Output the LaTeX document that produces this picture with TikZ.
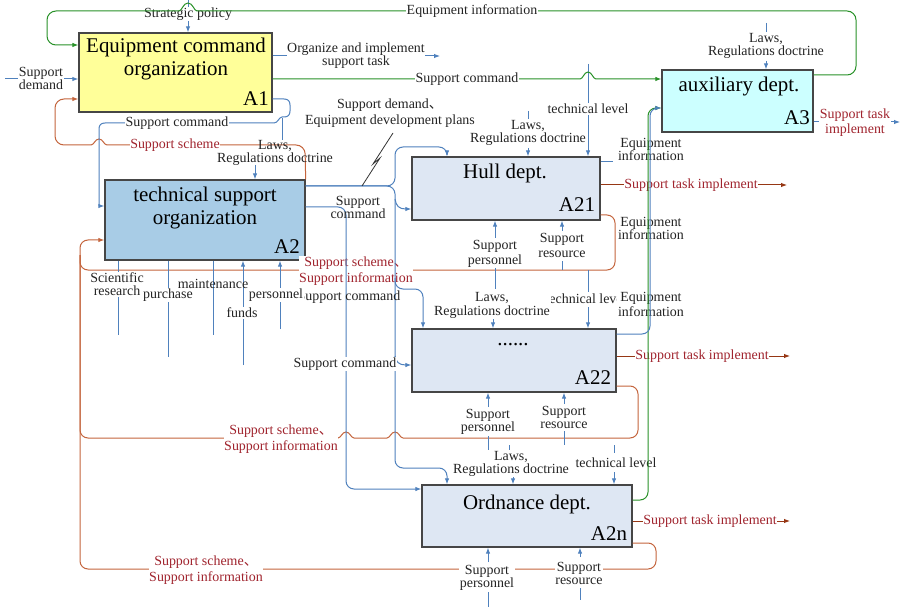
\documentclass[tikz,border=0pt]{standalone}
\usepackage{fontspec}
\setmainfont{Liberation Serif}
\newfontfamily\cjkfont{Noto Sans CJK SC}
\usetikzlibrary{arrows.meta}

\definecolor{lnblue}{RGB}{79,129,189}
\definecolor{lngreen}{RGB}{40,145,40}
\definecolor{lnbrown}{RGB}{196,100,60}
\definecolor{outbrown}{RGB}{150,55,20}
\definecolor{txtred}{RGB}{160,35,45}
\definecolor{txtdark}{RGB}{35,35,35}
\definecolor{edgegray}{RGB}{70,70,70}
\definecolor{fillAone}{RGB}{255,255,153}
\definecolor{fillAthree}{RGB}{204,255,255}
\definecolor{fillAtwo}{RGB}{168,204,230}
\definecolor{fillsub}{RGB}{222,231,243}

\tikzset{
  blk/.style={draw=edgegray, line width=1.3bp, inner sep=0pt},
  ttl/.style={font=\fontsize{21}{24}\selectfont, align=center, inner sep=0pt, text=black},
  tag/.style={font=\fontsize{21}{24}\selectfont, inner sep=0pt, text=black},
  bline/.style={draw=lnblue, line width=1bp},
  gline/.style={draw=lngreen, line width=1bp},
  rline/.style={draw=lnbrown, line width=1bp},
  oline/.style={draw=outbrown, line width=1bp},
  tip/.style={-{Latex[length=6bp,width=4.5bp]}},
  lbl/.style={font=\fontsize{14}{13}\selectfont, align=center, inner sep=0.6bp, fill=white, text=txtdark},
  bare/.style={lbl, fill=none},
  rlbl/.style={lbl, text=txtred, font=\fontsize{14}{16}\selectfont},
}

\begin{document}
\begin{tikzpicture}[x=1bp,y=-1bp]
\fill[white] (0,0) rectangle (901,607);
\useasboundingbox (0,0) rectangle (901,607);

% ---------- activity boxes ----------
\node[blk, fill=fillAone, minimum width=193bp, minimum height=79bp] (A1) at (175.5,72.5) {};
\node[blk, fill=fillAthree, minimum width=151bp, minimum height=62bp] (A3) at (737.5,101) {};
\node[blk, fill=fillAtwo, minimum width=200bp, minimum height=80bp] (A2) at (205,220) {};
\node[blk, fill=fillsub, minimum width=188bp, minimum height=63bp] (A21) at (506,188.5) {};
\node[blk, fill=fillsub, minimum width=204bp, minimum height=63bp] (A22) at (514,360.5) {};
\node[blk, fill=fillsub, minimum width=210bp, minimum height=62bp] (A2n) at (527,516) {};

\node[ttl] (A1t) at (176,59) {Equipment command\\organization};
\node[tag] (A1id) at (256,99) {A1};
\node[ttl] (A3t) at (739,87) {auxiliary dept.};
\node[tag] (A3id) at (797,118) {A3};
\node[ttl] (A2t) at (205,208) {technical support\\organization};
\node[tag] (A2id) at (287,247) {A2};
\node[ttl] (A21t) at (505,173) {Hull dept.};
\node[tag] (A21id) at (577,205) {A21};
\node[ttl] (A22t) at (513,345) {......};
\node[tag] (A22id) at (593,378) {A22};
\node[ttl] (A2nt) at (527,504) {Ordnance dept.};
\node[tag] (A2nid) at (609,534) {A2n};

% ---------- feedback loops back to A2 ----------
\draw[rline,tip,rounded corners=8] (A21.east |- 0,215) -- (615,215) -- (615,270) -- (80,270) -- (80,240) -- (A2.west |- 0,240);
\draw[rline,rounded corners=8] (A22.east |- 0,386) -- (638,386) -- (638,438) -- (403,438);
\draw[rline] (403,438) .. controls (400,438) and (399,432) .. (395,432) .. controls (391,432) and (390,438) .. (387,438)
  -- (354,438) .. controls (351,438) and (350,432) .. (346,432) .. controls (342,432) and (341,438) .. (338,438);
\draw[rline,rounded corners=8] (338,438) -- (80,438) -- (80,255);
\draw[rline,rounded corners=8] (A2n.east |- 0,543) -- (656,543) -- (656,569) -- (80,569) -- (80,255);
\node[rlbl] (ss21) at (356,271) {Support scheme{\cjkfont 、}\\Support information};
\node[rlbl] (ss22) at (281,439) {Support scheme{\cjkfont 、}\\Support information};
\node[rlbl] (ss2n) at (206,570) {Support scheme{\cjkfont 、}\\Support information};

% ---------- support scheme from A2 back to A1 ----------
\draw[rline,rounded corners=9] (A2.north east) -- (305,145) -- (107,145);
\draw[rline] (107,145) .. controls (104,145) and (103,139) .. (99,139) .. controls (95,139) and (94,145) .. (91,145);
\draw[rline,tip,rounded corners=9] (91,145) -- (55,145) -- (55,99) -- (A1.west |- 0,99);
\node[rlbl] (ssA1) at (175,145) {Support scheme};

% ---------- outputs of the departments ----------
\draw[oline,tip] (A21.east |- 0,185) -- (787,185);
\node[rlbl] (st21) at (691,185) {Support task implement};
\draw[oline,tip] (A22.east |- 0,356) -- (790,356);
\node[rlbl] (st22) at (702,356) {Support task implement};
\draw[oline,tip] (A2n.east |- 0,521) -- (790,521);
\node[rlbl] (st2n) at (710,521) {Support task implement};

% ---------- A1 inputs and controls ----------
\draw[bline,tip] (188,0) -- (A1.north -| 188,0);
\node[lbl] (sp) at (188,14) {Strategic policy};
\draw[gline,rounded corners=9] (A3.east |- 0,75) -- (856,75) -- (856,11) -- (197,11);
\draw[gline] (197,11) .. controls (194,11) and (193,3) .. (188,3) .. controls (183,3) and (182,11) .. (179,11);
\draw[gline,tip,rounded corners=9] (179,11) -- (47,11) -- (47,45) -- (A1.west |- 0,45);
\node[lbl] (ei) at (472,11) {Equipment information};

\draw[bline,tip] (5,79) -- (A1.west |- 0,79);
\node[lbl, font=\fontsize{14}{12.5}\selectfont] (sd) at (41,78.5) {Support\\demand};

% ---------- A1 outputs ----------
\draw[bline,tip] (A1.east |- 0,56) -- (440,56);
\node[lbl] (org) at (356,55.5) {Organize and implement\\support task};

\draw[bline,tip] (588,64) -- (A21.north -| 588,0);
\node[lbl] (tl21) at (588,109) {technical level};
\draw[gline,tip] (A1.east |- 0,79) -- (580,79)
  .. controls (583,79) and (584,72) .. (588,72) .. controls (592,72) and (593,79) .. (596,79)
  -- (A3.west |- 0,79);
\node[lbl] (sc1) at (467,79) {Support command};

\draw[bline] (282,140) -- (282,118);
\draw[bline] (A1.east |- 0,99) -- (284,99) .. controls (288,99) and (290,101) .. (290,105)
  -- (290,111) .. controls (290,115) and (288,117) .. (284,117) -- (282,117)
  .. controls (279,117) and (278,123) .. (274,123) -- (105,123)
  .. controls (101,123) and (99,125) .. (99,129) -- (99,206);
\draw[bline,tip] (99,206) -- (A2.west |- 0,206);
\node[lbl] (sc2) at (177,123) {Support command};

% ---------- A3 control and output ----------
\draw[bline] (766,23) -- (766,32);
\node[bare] (lawA3) at (766,45.5) {Laws,\\Regulations doctrine};
\draw[bline,tip] (766,61) -- (A3.north -| 766,0);
\draw[bline,tip] (A3.east |- 0,122) -- (900,122);
\node[rlbl, font=\fontsize{14}{15}\selectfont] (stA3) at (855,122.5) {Support task\\implement};

% ---------- A2 control ----------
\node[bare, font=\fontsize{14}{13}\selectfont] (lawA2) at (275,152.5) {Laws,\\Regulations doctrine};
\draw[bline,tip] (255,165) -- (A2.north -| 255,0);

% ---------- A2 outputs to the departments ----------
\draw[bline,tip,rounded corners=8] (A2.east |- 0,186) -- (395,186) -- (395,147) -- (447,147) -- (A21.north -| 447,0);
\draw[bline,tip,rounded corners=8] (A2.east |- 0,186) -- (395,186) -- (395,468) -- (447,468) -- (A2n.north -| 447,0);
\draw[bline,tip] (395,199) .. controls (396,206) and (399,209) .. (A21.west |- 0,209);
\draw[bline,tip,rounded corners=8] (395,278) -- (395,289) -- (423,289) -- (A22.north -| 423,0);
\draw[bline,tip] (395,356) .. controls (396,362) and (399,365) .. (A22.west |- 0,365);
\draw[bline,tip,rounded corners=8] (A2.east |- 0,207) -- (346,207) -- (346,489) -- (A2n.west |- 0,489);
\node[bare] (cmd21) at (358,207) {Support\\command};
\node[bare] (cmd22) at (349,297) {Support command};
\node[lbl] (cmd2n) at (345,364) {Support command};

\draw[black!80, line width=0.8bp] (362,186) -- (380,158) -- (373,164) -- (393,133);
\node[bare, font=\fontsize{14}{16}\selectfont] (sdp) at (390,113) {Support demand{\cjkfont 、}\\Equipment development plans};

% ---------- A2 mechanisms ----------
\draw[bline] (A2.south -| 118,0) -- (118,335);
\node[lbl] (sr) at (117,284.5) {Scientific\\research};
\draw[bline] (A2.south -| 168,0) -- (168,357);
\node[lbl] (pu) at (168,295) {purchase};
\draw[bline] (A2.south -| 213,0) -- (213,335);
\draw[bline,tip] (243,365) -- (A2.south -| 243,0);
\node[bare] (mt) at (213,284) {maintenance};
\node[lbl] (fu) at (242,313) {funds};
\draw[bline,tip] (280,329) -- (A2.south -| 280,0);
\node[lbl] (pe) at (276,295) {personnel};

% ---------- A21 controls and mechanisms ----------
\draw[bline] (528,111) -- (528,119);
\node[bare, font=\fontsize{14}{13.5}\selectfont] (law21) at (528,133) {Laws,\\Regulations doctrine};
\draw[bline,tip] (528,148) -- (A21.north -| 528,0);
\draw[bline,tip] (495,238) -- (A21.south -| 495,0);
\node[lbl, font=\fontsize{14}{15}\selectfont] (sp21) at (495,253.5) {Support\\personnel};
\draw[bline] (495,268) -- (495,289);
\draw[bline,tip] (562,231) -- (A21.south -| 562,0);
\node[lbl, font=\fontsize{14}{15}\selectfont] (res21) at (562,245.5) {Support\\resource};
\draw[bline] (562,261) -- (562,270);

% ---------- A22 controls and mechanisms ----------
\draw[bline] (588,270) -- (588,292);
\node[bare] (tl22) at (586,299) {technical level};
\draw[bline,tip] (588,307) -- (A22.north -| 588,0);
\node[lbl, font=\fontsize{14}{14}\selectfont] (law22) at (492,305) {Laws,\\Regulations doctrine};
\draw[bline,tip] (493,319) -- (A22.north -| 493,0);
\draw[bline,tip] (488,407) -- (A22.south -| 488,0);
\node[lbl] (sp22) at (488,421.5) {Support\\personnel};
\draw[bline] (488,436) -- (488,453);
\draw[bline,tip] (564,404) -- (A22.south -| 564,0);
\node[lbl] (res22) at (564,417) {Support\\resource};
\draw[bline] (564,431) -- (564,445);

% ---------- A2n controls and mechanisms ----------
\draw[bline] (509,445) -- (509,451);
\node[lbl] (law2n) at (511,463.5) {Laws,\\Regulations doctrine};
\draw[bline,tip] (513,477) -- (A2n.north -| 513,0);
\draw[bline] (614,445) -- (614,453);
\node[lbl] (tl2n) at (616,463) {technical level};
\draw[bline,tip] (614,472) -- (A2n.north -| 614,0);
\draw[bline,tip] (488,562) -- (A2n.south -| 488,0);
\node[lbl] (sp2n) at (487,577.5) {Support\\personnel};
\draw[bline] (488,592) -- (488,607);
\draw[bline,tip] (580,557) -- (A2n.south -| 580,0);
\node[lbl] (res2n) at (579,573) {Support\\resource};
\draw[bline] (580,588) -- (580,600);

% ---------- equipment information to A3 ----------
\draw[bline] (A21.east |- 0,162) -- (613,162);
\node[lbl, font=\fontsize{14}{13.5}\selectfont] (ei21) at (651,149.5) {Equipment\\information};
\node[lbl, font=\fontsize{14}{13.5}\selectfont] (ei21b) at (651,228.5) {Equipment\\information};
\node[lbl, font=\fontsize{14}{14.5}\selectfont] (ei22) at (651,304.5) {Equipment\\information};
\draw[gline,tip,rounded corners=8] (A2n.east |- 0,500) -- (648,500) -- (648,108) -- (A3.west |- 0,108);
\draw[bline,tip,rounded corners=8] (A22.east |- 0,334) -- (650,334) -- (650,108) -- (A3.west |- 0,108);
\end{tikzpicture}
\end{document}
